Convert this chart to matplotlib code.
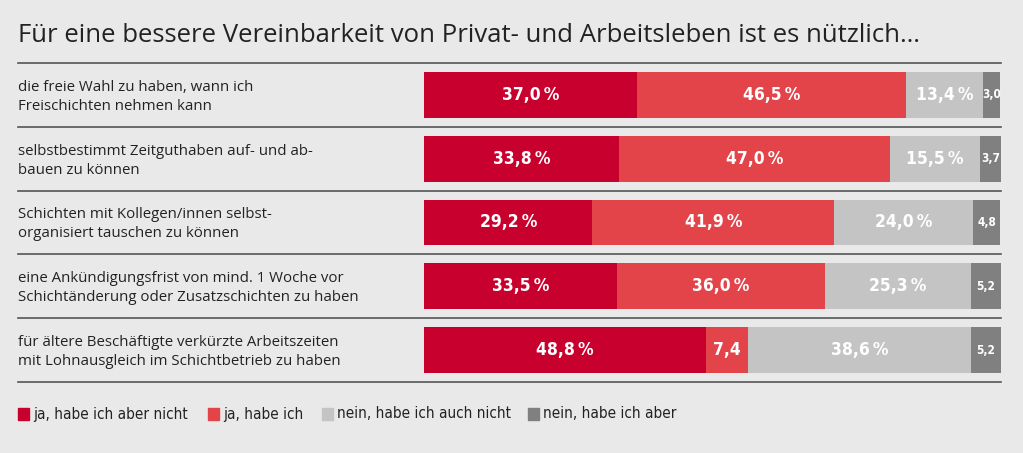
import numpy as np
import matplotlib.pyplot as plt

# data
questions = [
    "die freie Wahl zu haben, wann ich\nFreischichten nehmen kann",
    "selbstbestimmt Zeitguthaben auf- und ab-\nbauen zu können",
    "Schichten mit Kollegen/innen selbst-\norganisiert tauschen zu können",
    "eine Ankündigungsfrist von mind. 1 Woche vor\nSchichtänderung oder Zusatzschichten zu haben",
    "für ältere Beschäftigte verkürzte Arbeitszeiten\nmit Lohnausgleich im Schichtbetrieb zu haben",
]
series = ["ja, habe ich aber nicht", "ja, habe ich",
          "nein, habe ich auch nicht", "nein, habe ich aber"]
ja_nicht = [37.0, 33.8, 29.2, 33.5, 48.8]
ja_habe = [46.5, 47.0, 41.9, 36.0, 7.4]
nein_nicht = [13.4, 15.5, 24.0, 25.3, 38.6]
nein_aber = [3.0, 3.7, 4.8, 5.2, 5.2]

colors = ["#c8002d", "#e2444a", "#c4c4c4", "#808080"]
bg = "#e9e9e9"
txt = "#222222"

W, H = 1023, 453
fig = plt.figure(figsize=(W / 100, H / 100), dpi=100, facecolor=bg)
ax = fig.add_axes([424 / W, 1 - 382 / H, 577 / W, 319 / H])
ax.set_facecolor(bg)
for s in ax.spines.values():
    s.set_visible(False)
ax.set_xticks([])
ax.set_yticks([])

n = len(questions)
ys = np.arange(n)
vals = [ja_nicht, ja_habe, nein_nicht, nein_aber]
left = np.zeros(n)
for k, v in enumerate(vals):
    v = np.array(v)
    ax.barh(ys, v, left=left, height=0.72, color=colors[k], edgecolor="none")
    for i in range(n):
        x = left[i] + v[i] / 2
        if k == 3 or v[i] < 10:
            s = f"{v[i]:.1f}".replace(".", ",")
            fs = 8.5 if k == 3 else 12.5
        else:
            s = f"{v[i]:.1f}".replace(".", ",") + "\u2009%"
            fs = 12.5
        ax.text(x, ys[i], s, ha="center", va="center", color="white",
                fontsize=fs, fontweight="bold", family="DejaVu Sans",
                fontstretch="condensed")
    left = left + v

ax.set_xlim(0, 100)
ax.set_ylim(n - 0.5, -0.5)

# separators
x0 = (18 - 424) / 577
for yy in np.arange(n + 1) - 0.5:
    ax.plot([x0, 1], [yy, yy], transform=ax.get_yaxis_transform(),
            color="#555555", lw=1.2, clip_on=False)

# row labels
for i, q in enumerate(questions):
    ax.text(x0, ys[i] + 0.03, q, transform=ax.get_yaxis_transform(),
            ha="left", va="center", fontsize=10.8, color=txt,
            linespacing=1.35, family="Open Sans")

fig.text(18 / W, 1 - 35 / H, "Für eine bessere Vereinbarkeit von Privat- und Arbeitsleben ist es nützlich\u2026",
         ha="left", va="center", fontsize=18.5, color=txt, family="Open Sans")

# legend
leg_x = [18, 208, 322, 528]
for k, name in enumerate(series):
    fig.patches.append(plt.Rectangle((leg_x[k] / W, 1 - 420 / H), 11 / W, 12 / H,
                                     transform=fig.transFigure, color=colors[k]))
    fig.text((leg_x[k] + 15) / W, 1 - 414 / H, name, ha="left", va="center",
             fontsize=11, color=txt, family="DejaVu Sans", fontstretch="condensed")

fig.savefig("out.png", dpi=100, facecolor=bg)
